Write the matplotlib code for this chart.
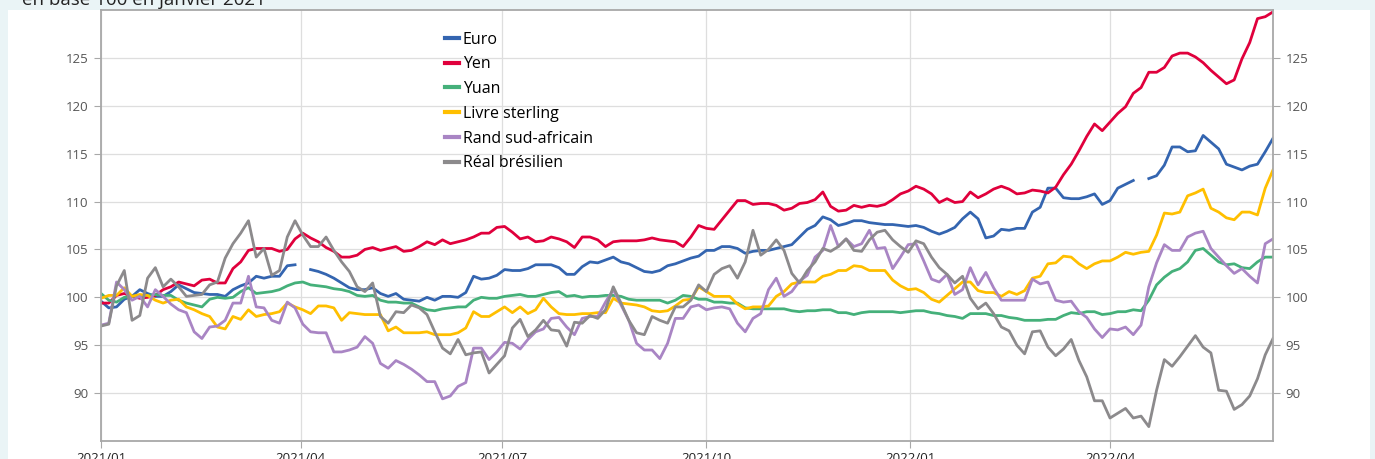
import numpy as np
import pandas as pd
import matplotlib
matplotlib.use("Agg")
import matplotlib.pyplot as plt
import matplotlib.dates as mdates
from matplotlib.patches import Rectangle

plt.rcParams["font.family"] = ["Open Sans", "DejaVu Sans"]

nan = np.nan

# twice-weekly closes, base 100 in January 2021
dates = pd.date_range("2021-01-01", periods=152, freq="84h")

euro = [99.6, 98.9, 99.0, 99.8, 100.1, 100.8, 100.4, 100.1, 100.1, 100.6, 101.3, 100.9, 100.5, 100.4,
        100.3, 100.3, 100.1, 100.8, 101.2, 101.5, 102.2, 102.0, 102.2, 102.2, 103.3, 103.4, nan, 102.9,
        102.7, 102.4, 102.0, 101.5, 101.0, 100.8, 100.8, 101.0, 100.4, 100.1, 100.4, 99.8, 99.7,
        99.6, 100.0, 99.7, 100.1, 100.1, 100.0, 100.5, 102.2, 101.9, 102.0, 102.3, 102.9, 102.8,
        102.8, 103.0, 103.4, 103.4, 103.4, 103.1, 102.4, 102.4, 103.2, 103.7, 103.6, 103.9, 104.2,
        103.7, 103.5, 103.1, 102.7, 102.6, 102.8, 103.3, 103.5, 103.8, 104.1, 104.3, 104.9, 104.9,
        105.3, 105.3, 105.1, 104.6, 104.8, 104.9, 104.9, 105.1, 105.3, 105.5, 106.3, 107.1, 107.5,
        108.4, 108.1, 107.5, 107.7, 108.0, 108.0, 107.8, 107.7, 107.6, 107.6, 107.5, 107.4, 107.5,
        107.3, 106.9, 106.6, 106.9, 107.3, 108.2, 108.9, 108.2, 106.2, 106.4, 107.1, 107.0, 107.2,
        107.2, 108.9, 109.4, 111.4, 111.4, 110.4, 110.3, 110.3, 110.5, 110.8, 109.7, 110.1, 111.4,
        111.8, 112.2, nan, 112.4, 112.7, 113.8, 115.7, 115.7, 115.2, 115.3,
        116.9, 116.2, 115.5, 113.9, 113.6, 113.3, 113.7, 113.9, 115.2, 116.6]

yen = [99.4, 99.4, 100.2, 100.4, 100.1, 99.9, 100.0, 100.2, 100.8, 101.1, 101.6, 101.4, 101.2, 101.8,
       101.9, 101.5, 101.5, 103.0, 103.7, 104.9, 105.1, 105.1, 105.1, 104.8, 105.0, 106.1, 106.7, 106.2,
       105.8, 105.2, 104.8, 104.2, 104.2, 104.4, 105.0, 105.2, 104.9, 105.1, 105.3, 104.8, 104.9,
       105.3, 105.8, 105.5, 106.0, 105.6, 105.8, 106.0, 106.3, 106.7, 106.7, 107.3, 107.4, 106.8,
       106.1, 106.3, 105.8, 105.9, 106.3, 106.1, 105.8, 105.2, 106.3, 106.3, 106.0, 105.3, 105.8,
       105.9, 105.9, 105.9, 106.0, 106.2, 106.0, 105.9, 105.8, 105.3, 106.3, 107.5, 107.2, 107.1,
       108.1, 109.1, 110.1, 110.1, 109.7, 109.8, 109.8, 109.6, 109.1, 109.3, 109.8, 109.9, 110.2,
       111.0, 109.5, 109.0, 109.1, 109.6, 109.4, 109.6, 109.5, 109.7, 110.2, 110.8, 111.1, 111.6,
       111.3, 110.8, 109.9, 110.3, 109.9, 110.0, 111.0, 110.4, 110.8, 111.3, 111.6, 111.3, 110.8,
       110.9, 111.2, 111.1, 110.9, 111.5, 112.8, 113.9, 115.3, 116.8, 118.1, 117.4, 118.3, 119.2,
       119.9, 121.3, 121.9, 123.5, 123.5, 124.0, 125.2, 125.5, 125.5, 125.1,
       124.5, 123.7, 123.0, 122.3, 122.7, 124.9, 126.6, 129.1, 129.3, 129.8]

yuan = [100.4, 99.7, 99.5, 100.0, 100.1, 100.2, 100.2, 100.3, 100.2, 100.2, 99.7, 99.4, 99.2, 99.0,
        99.8, 100.0, 99.9, 100.0, 100.6, 101.0, 100.4, 100.5, 100.6, 100.8, 101.2, 101.5, 101.6, 101.3,
        101.2, 101.1, 100.9, 100.8, 100.6, 100.2, 100.1, 100.2, 99.7, 99.5, 99.5, 99.4, 99.4,
        99.0, 98.7, 98.6, 98.8, 98.9, 99.0, 99.0, 99.7, 100.0, 99.9, 99.9, 100.1, 100.2,
        100.3, 100.1, 100.1, 100.3, 100.5, 100.6, 100.1, 100.2, 100.0, 100.1, 100.1, 100.2, 100.2,
        100.1, 99.8, 99.7, 99.7, 99.7, 99.7, 99.4, 99.7, 100.2, 100.1, 99.8, 99.8, 99.5,
        99.5, 99.4, 99.4, 98.9, 98.8, 98.8, 98.8, 98.8, 98.8, 98.6, 98.5, 98.6, 98.6,
        98.7, 98.7, 98.4, 98.4, 98.2, 98.4, 98.5, 98.5, 98.5, 98.5, 98.4, 98.5, 98.6,
        98.6, 98.4, 98.3, 98.1, 98.0, 97.8, 98.3, 98.3, 98.3, 98.1, 98.1, 97.9, 97.8,
        97.6, 97.6, 97.6, 97.7, 97.7, 98.1, 98.4, 98.3, 98.5, 98.5, 98.2, 98.3, 98.5,
        98.5, 98.7, 98.6, 99.7, 101.3, 102.1, 102.7, 103.0, 103.7, 104.9,
        105.1, 104.4, 103.7, 103.4, 103.5, 103.1, 103.0, 103.7, 104.2, 104.2]

livre = [99.9, 100.2, 100.2, 101.0, 100.1, 100.3, 100.2, 99.7, 99.4, 99.7, 99.8, 99.0, 98.7, 98.3,
         98.0, 96.9, 96.7, 98.0, 97.7, 98.7, 98.0, 98.2, 98.3, 98.5, 99.4, 99.0, 98.7, 98.3,
         99.1, 99.1, 98.9, 97.6, 98.4, 98.3, 98.2, 98.2, 98.2, 96.5, 96.9, 96.3, 96.3,
         96.3, 96.4, 96.1, 96.1, 96.1, 96.3, 96.8, 98.5, 98.0, 98.0, 98.5, 99.0, 98.4,
         99.0, 98.3, 98.7, 99.9, 99.0, 98.3, 98.2, 98.2, 98.3, 98.3, 98.4, 98.4, 99.9,
         99.4, 99.3, 99.2, 99.0, 98.6, 98.5, 98.6, 99.1, 99.7, 99.8, 101.1, 100.6, 100.1,
         100.1, 100.1, 99.3, 98.8, 99.0, 99.0, 99.1, 100.1, 100.6, 101.4, 101.6, 101.6, 101.6,
         102.2, 102.4, 102.8, 102.8, 103.3, 103.2, 102.8, 102.8, 102.8, 101.8, 101.2, 100.8, 100.9,
         100.5, 99.8, 99.5, 100.2, 100.9, 101.6, 101.6, 100.7, 100.5, 100.5, 100.1, 100.6, 100.3,
         100.7, 102.0, 102.2, 103.5, 103.6, 104.3, 104.2, 103.5, 103.0, 103.5, 103.8, 103.8, 104.2,
         104.7, 104.5, 104.7, 104.8, 106.5, 108.8, 108.7, 108.9, 110.6, 110.9,
         111.3, 109.3, 108.9, 108.3, 108.1, 108.9, 108.9, 108.6, 111.4, 113.3]

rand = [97.1, 97.3, 101.6, 100.8, 99.7, 100.1, 99.0, 100.8, 100.1, 99.3, 98.7, 98.4, 96.4, 95.7,
        96.9, 97.0, 97.6, 99.4, 99.4, 102.2, 99.0, 98.9, 97.6, 97.3, 99.5, 98.9, 97.2, 96.4,
        96.3, 96.3, 94.3, 94.3, 94.5, 94.8, 95.9, 95.2, 93.1, 92.6, 93.4, 93.0, 92.5,
        91.9, 91.2, 91.2, 89.4, 89.7, 90.7, 91.1, 94.7, 94.7, 93.5, 94.3, 95.3, 95.2,
        94.6, 95.6, 96.4, 96.7, 97.8, 97.9, 96.9, 96.1, 97.8, 98.0, 98.0, 99.5, 100.8,
        99.2, 97.6, 95.2, 94.5, 94.5, 93.6, 95.2, 97.8, 97.8, 99.0, 99.2, 98.7, 98.9,
        99.0, 98.8, 97.3, 96.4, 97.8, 98.3, 100.8, 102.0, 100.1, 100.6, 101.7, 102.3, 104.2,
        104.9, 107.5, 105.3, 106.1, 105.3, 105.6, 107.0, 105.1, 105.2, 103.0, 104.2, 105.5, 105.6,
        103.8, 101.9, 101.6, 102.4, 100.3, 100.8, 103.1, 101.3, 102.6, 101.0, 99.7, 99.7, 99.7,
        99.7, 101.9, 101.4, 101.6, 99.7, 99.5, 99.6, 98.5, 97.9, 96.7, 95.8, 96.7, 96.6,
        96.9, 96.1, 97.1, 101.1, 103.6, 105.5, 104.9, 104.9, 106.3, 106.7,
        106.9, 105.1, 104.2, 103.3, 102.5, 103.0, 102.2, 101.5, 105.6, 106.1]

real = [97.0, 97.2, 101.2, 102.8, 97.6, 98.1, 102.0, 103.1, 101.1, 101.9, 101.1, 100.1, 100.2, 100.3,
        101.3, 101.6, 104.1, 105.6, 106.7, 108.0, 104.2, 105.1, 102.3, 102.8, 106.3, 108.0, 106.5, 105.3,
        105.3, 106.3, 104.9, 103.7, 102.7, 101.1, 100.6, 101.5, 98.0, 97.3, 98.5, 98.4, 99.2,
        98.9, 98.2, 96.4, 94.7, 94.1, 95.6, 94.0, 94.2, 94.3, 92.1, 93.0, 93.9, 96.8,
        97.7, 95.9, 96.6, 97.6, 96.6, 96.5, 94.9, 97.4, 97.3, 98.1, 97.8, 98.7, 101.1,
        99.4, 97.6, 96.3, 96.1, 98.0, 97.6, 97.3, 99.0, 99.0, 99.7, 101.3, 100.6, 102.4,
        103.0, 103.3, 102.0, 103.7, 107.0, 104.4, 105.0, 106.0, 104.9, 102.5, 101.5, 102.8, 103.7,
        105.1, 104.8, 105.3, 106.1, 104.9, 104.8, 106.0, 106.8, 107.0, 106.0, 105.3, 104.7, 105.9,
        105.6, 104.2, 103.1, 102.4, 101.5, 102.2, 99.9, 98.8, 99.4, 98.3, 96.9, 96.5, 95.0,
        94.1, 96.4, 96.5, 94.8, 93.9, 94.6, 95.6, 93.4, 91.7, 89.2, 89.2, 87.4, 87.9,
        88.4, 87.4, 87.6, 86.5, 90.3, 93.5, 92.8, 93.8, 94.9, 96.0,
        94.8, 94.2, 90.3, 90.2, 88.3, 88.8, 89.7, 91.5, 94.0, 95.7]

series = [
    ("Euro", euro, "#3465b0"),
    ("Yen", yen, "#e0003c"),
    ("Yuan", yuan, "#45b07a"),
    ("Livre sterling", livre, "#ffbf00"),
    ("Rand sud-africain", rand, "#a985c4"),
    ("Réal brésilien", real, "#8c8a8c"),
]
for name, vals, _ in series:
    assert len(vals) == len(dates), name

fig = plt.figure(figsize=(13.75, 4.59), dpi=100)
fig.patch.set_facecolor("#eaf4f6")
# white card behind the chart
fig.patches.append(Rectangle((8 / 1375, 0), 1362 / 1375, 1 - 10 / 459,
                             transform=fig.transFigure, facecolor="white",
                             edgecolor="none", zorder=-10))
fig.text(22 / 1375, 1 - 5 / 459, "en base 100 en janvier 2021",
         fontsize=13.5, color="#222222", va="baseline", ha="left")

ax = fig.add_axes([101 / 1375, 1 - 441 / 459, 1172 / 1375, 431 / 459])
ax.set_zorder(5)
ax.set_facecolor("white")

for name, vals, col in series:
    ax.plot(dates, vals, color=col, lw=2.0, label=name, solid_joinstyle="round")

ax.set_xlim(pd.Timestamp("2021-01-01"), pd.Timestamp("2022-06-13 12:00"))
ax.set_ylim(85, 130)
ax.set_yticks([90, 95, 100, 105, 110, 115, 120, 125])
ax.xaxis.set_major_locator(mdates.MonthLocator(bymonth=[1, 4, 7, 10]))
ax.xaxis.set_major_formatter(mdates.DateFormatter("%Y/%m"))

ax.grid(True, color="#dedede", lw=0.9)
ax.set_axisbelow(True)
for s in ax.spines.values():
    s.set_color("#a8a8a8")
    s.set_linewidth(1.3)

ax.tick_params(axis="y", which="both", left=True, right=True, labelleft=True, labelright=True,
               length=5, color="#a8a8a8", labelsize=9.5, labelcolor="#555555", pad=4)
ax.tick_params(axis="x", length=5, color="#a8a8a8", labelsize=9.5, labelcolor="#222222", pad=3)

leg = ax.legend(loc="upper left", bbox_to_anchor=((445 - 101) / 1172, 1 - 21.5 / 431),
                frameon=False, fontsize=11.5, handlelength=0.85, handletextpad=0.25,
                labelspacing=0.55, borderaxespad=0, borderpad=0)
for h in leg.get_lines():
    h.set_linewidth(3)

fig.savefig("out.png", dpi=100, facecolor=fig.get_facecolor())
